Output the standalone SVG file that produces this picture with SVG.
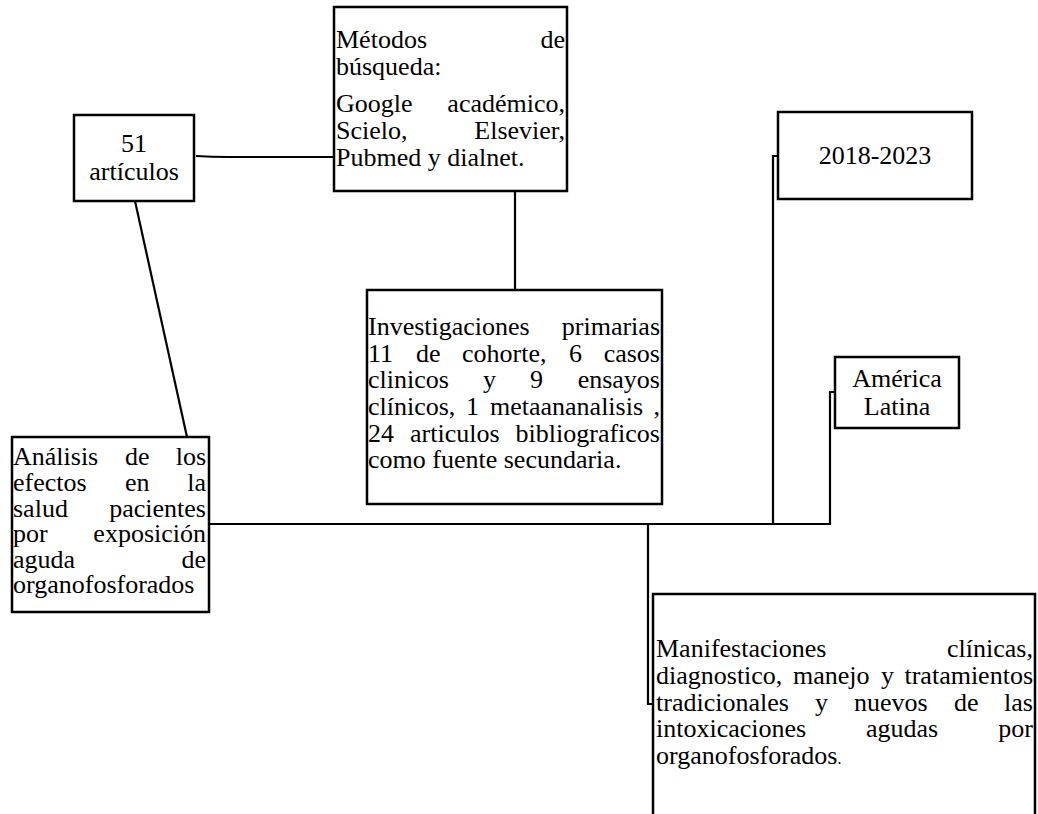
<svg xmlns="http://www.w3.org/2000/svg" width="1038" height="814" viewBox="0 0 1038 814">
<style>
.box{fill:#fff;stroke:#000;stroke-width:2.5}
.con{fill:none;stroke:#000;stroke-width:2.2}
text{font-family:"Liberation Serif","Times New Roman",serif;font-size:26px;fill:#000}
.e{text-anchor:end}
.m{text-anchor:middle}
</style>
<rect width="1038" height="814" fill="#fff"/>
<g id="connectors">
<path class="con" d="M196,156 Q212,157 228,157 L334,157"/>
<path class="con" d="M135,201 L187,437"/>
<path class="con" d="M515,191 L515,290"/>
<path class="con" d="M209,524 L830,524 L830,392 L835,392"/>
<path class="con" d="M773,524 L773,156 L778,156"/>
<path class="con" d="M648,524 L648,704 L653,704"/>
</g>
<g id="n51">
<rect class="box" x="74" y="115" width="120" height="86"/>
<text class="m" x="134" y="152">51</text>
<text class="m" x="134" y="180">artículos</text>
</g>
<g id="metodos">
<rect class="box" x="334" y="7" width="233" height="184"/>
<text x="336" y="48">Métodos</text><text class="e" x="565" y="48">de</text>
<text x="336" y="75">búsqueda:</text>
<text x="336" y="112">Google</text><text class="e" x="565" y="112">académico,</text>
<text x="336" y="139">Scielo,</text><text class="e" x="565" y="139">Elsevier,</text>
<text x="336" y="166">Pubmed y dialnet.</text>
</g>
<g id="investigaciones">
<rect class="box" x="367" y="290" width="295" height="214"/>
<text x="368" y="335">Investigaciones</text><text class="e" x="660" y="335">primarias</text>
<text x="368" y="362">11</text><text x="416" y="362">de</text><text x="462" y="362">cohorte,</text><text x="569" y="362">6</text><text class="e" x="660" y="362">casos</text>
<text x="368" y="388">clinicos</text><text x="483" y="388">y</text><text x="530" y="388">9</text><text class="e" x="660" y="388">ensayos</text>
<text x="368" y="415">clínicos,</text><text x="466" y="415">1</text><text x="490" y="415">metaananalisis</text><text class="e" x="660" y="415">,</text>
<text x="368" y="442">24</text><text x="410" y="442">articulos</text><text class="e" x="660" y="442">bibliograficos</text>
<text x="368" y="468">como fuente secundaria.</text>
</g>
<g id="analisis">
<rect class="box" x="12" y="437" width="197" height="175"/>
<text x="13" y="465">Análisis</text><text x="125" y="465">de</text><text class="e" x="206" y="465">los</text>
<text x="13" y="491">efectos</text><text x="125" y="491">en</text><text class="e" x="206" y="491">la</text>
<text x="13" y="517">salud</text><text class="e" x="206" y="517">pacientes</text>
<text x="13" y="542">por</text><text class="e" x="206" y="542">exposición</text>
<text x="13" y="568">aguda</text><text class="e" x="206" y="568">de</text>
<text x="13" y="593">organofosforados</text>
</g>
<g id="periodo">
<rect class="box" x="778" y="112" width="194" height="87"/>
<text class="m" x="875" y="164">2018-2023</text>
</g>
<g id="america">
<rect class="box" x="835" y="357" width="124" height="71"/>
<text class="m" x="897" y="387">América</text>
<text class="m" x="897" y="415">Latina</text>
</g>
<g id="manifestaciones">
<rect class="box" x="653" y="594" width="382" height="240"/>
<text x="656" y="657">Manifestaciones</text><text class="e" x="1033" y="657">clínicas,</text>
<text x="656" y="684">diagnostico,</text><text x="793" y="684">manejo</text><text x="881" y="684">y</text><text class="e" x="1033" y="684">tratamientos</text>
<text x="656" y="711">tradicionales</text><text x="815" y="711">y</text><text x="854" y="711">nuevos</text><text x="954" y="711">de</text><text class="e" x="1033" y="711">las</text>
<text x="656" y="737">intoxicaciones</text><text x="866" y="737">agudas</text><text class="e" x="1033" y="737">por</text>
<text x="656" y="764">organofosforados<tspan style="font-size:16px">.</tspan></text>
</g>
</svg>
